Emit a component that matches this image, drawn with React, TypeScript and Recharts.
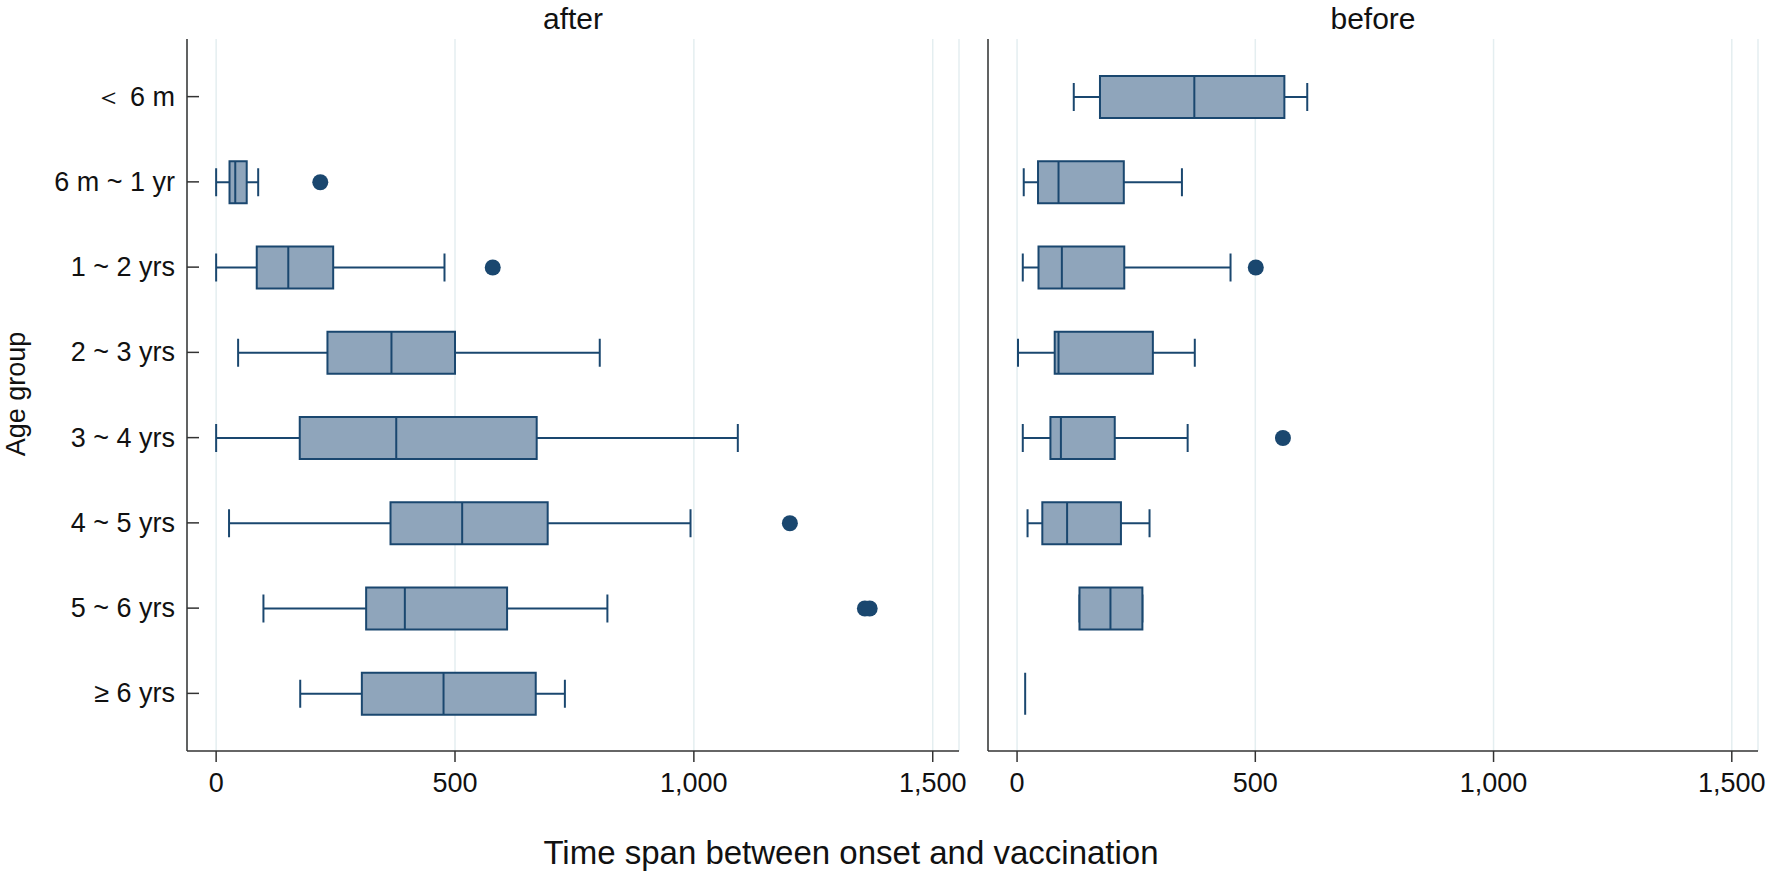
import { Bar, CartesianGrid, ComposedChart, XAxis, YAxis } from "recharts";

const NAVY = "#1a476f";
const BOX_FILL = "#8fa5bb";
const GRID = "#e4eef0";
const AXIS = "#333333";
const FONT = "'Liberation Sans', Arial, sans-serif";

const groups = ["\uFF1C 6 m", "6 m ~ 1 yr", "1 ~ 2 yrs", "2 ~ 3 yrs", "3 ~ 4 yrs", "4 ~ 5 yrs", "5 ~ 6 yrs", "≥ 6 yrs"];

// after vaccination
const afterLow = [null, 0, 0, 46, 0, 27, 99, 176];
const afterQ1 = [null, 28, 85, 233, 175, 365, 314, 305];
const afterMedian = [null, 40, 151, 367, 377, 515, 395, 476];
const afterQ3 = [null, 64, 245, 500, 671, 694, 609, 669];
const afterHigh = [null, 88, 478, 803, 1092, 993, 819, 730];
const afterOutliers = [[], [218], [579], [], [], [1201], [1358, 1368], []];

// before vaccination
const beforeLow = [119, 14, 12, 2, 12, 22, 131, 17];
const beforeQ1 = [174, 44, 45, 79, 70, 53, 131, 17];
const beforeMedian = [372, 87, 94, 87, 92, 105, 196, 17];
const beforeQ3 = [561, 224, 225, 285, 205, 218, 263, 17];
const beforeHigh = [609, 346, 448, 373, 358, 278, 263, 17];
const beforeOutliers = [[], [], [501], [], [558], [], [], []];

const xTicks = [0, 500, 1000, 1500];
const xDomain = [-61, 1555];

type Row = {
  group: string;
  low: number | null;
  q1: number | null;
  median: number | null;
  q3: number | null;
  high: number | null;
  outliers: number[];
  span: [number, number] | null;
};

function buildRows(
  low: (number | null)[],
  q1: (number | null)[],
  median: (number | null)[],
  q3: (number | null)[],
  high: (number | null)[],
  outliers: number[][]
): Row[] {
  return groups.map((group, i) => ({
    group,
    low: low[i],
    q1: q1[i],
    median: median[i],
    q3: q3[i],
    high: high[i],
    outliers: outliers[i],
    span:
      low[i] == null
        ? null
        : [Math.min(low[i] as number, ...outliers[i]), Math.max(high[i] as number, ...outliers[i])],
  }));
}

const afterRows = buildRows(afterLow, afterQ1, afterMedian, afterQ3, afterHigh, afterOutliers);
const beforeRows = buildRows(beforeLow, beforeQ1, beforeMedian, beforeQ3, beforeHigh, beforeOutliers);

function BoxShape(props: any) {
  const { x, y, width, height, payload } = props;
  if (!payload || payload.span == null) return null;
  const [lo, hi] = payload.span;
  const top = y;
  const bottom = y + height;
  const cy = y + height / 2;
  if (hi === lo) {
    return <line x1={x} x2={x} y1={top} y2={bottom} stroke={NAVY} strokeWidth={2} />;
  }
  const k = width / (hi - lo);
  const px = (v: number) => x + (v - lo) * k;
  const cap = height / 3;
  return (
    <g>
      <line x1={px(payload.low)} x2={px(payload.q1)} y1={cy} y2={cy} stroke={NAVY} strokeWidth={2} />
      <line x1={px(payload.q3)} x2={px(payload.high)} y1={cy} y2={cy} stroke={NAVY} strokeWidth={2} />
      <line x1={px(payload.low)} x2={px(payload.low)} y1={cy - cap} y2={cy + cap} stroke={NAVY} strokeWidth={2} />
      <line x1={px(payload.high)} x2={px(payload.high)} y1={cy - cap} y2={cy + cap} stroke={NAVY} strokeWidth={2} />
      <rect
        x={px(payload.q1)}
        y={top}
        width={px(payload.q3) - px(payload.q1)}
        height={height}
        fill={BOX_FILL}
        stroke={NAVY}
        strokeWidth={2}
      />
      <line x1={px(payload.median)} x2={px(payload.median)} y1={top} y2={bottom} stroke={NAVY} strokeWidth={2} />
      {payload.outliers.map((v: number) => (
        <circle key={v} cx={px(v)} cy={cy} r={8} fill={NAVY} />
      ))}
    </g>
  );
}

function CategoryTick(props: any) {
  const { x, y, payload } = props;
  return (
    <g>
      <text x={x} y={y} textAnchor="end" dominantBaseline="central" fontSize={27} fill="#111" fontFamily={FONT}>
        {payload.value}
      </text>
      <line x1={x + 12} x2={x + 24} y1={y} y2={y} stroke={AXIS} strokeWidth={1.5} />
    </g>
  );
}

function Panel({ rows, showLabels, margin }: { rows: Row[]; showLabels: boolean; margin: any }) {
  return (
    <ComposedChart width={1767} height={872} data={rows} layout="vertical" margin={margin}>
      <CartesianGrid horizontal={false} stroke={GRID} strokeWidth={1.5} />
      <XAxis
        type="number"
        domain={xDomain}
        ticks={xTicks}
        allowDataOverflow
        tickFormatter={(v: number) => v.toLocaleString("en-US")}
        tick={{ fontSize: 27, fill: "#111", fontFamily: FONT }}
        tickSize={11}
        tickMargin={11}
        stroke={AXIS}
        strokeWidth={1.5}
        height={60}
      />
      <XAxis
        xAxisId="frame"
        orientation="top"
        type="number"
        domain={xDomain}
        allowDataOverflow
        tick={false}
        tickLine={false}
        height={0}
        stroke={GRID}
        strokeWidth={1.5}
      />
      <YAxis
        type="category"
        dataKey="group"
        width={showLabels ? 187 : 28}
        padding={{ top: 15, bottom: 15 }}
        tick={showLabels ? <CategoryTick /> : false}
        tickLine={false}
        tickSize={0}
        tickMargin={12}
        stroke={AXIS}
        strokeWidth={1.5}
        interval={0}
      />
      <YAxis
        yAxisId="frame"
        orientation="right"
        type="category"
        dataKey="group"
        width={0}
        tick={false}
        tickLine={false}
        stroke={GRID}
        strokeWidth={1.5}
      />
      <Bar dataKey="span" barSize={42} shape={<BoxShape />} isAnimationActive={false} />
    </ComposedChart>
  );
}

export default function App() {
  return (
    <div style={{ position: "absolute", left: 0, top: 0, width: 1767, height: 872, background: "#fff", fontFamily: FONT }}>
      <div style={{ position: "absolute", left: 0, top: 0 }}>
        <Panel rows={afterRows} showLabels margin={{ top: 39, right: 808, bottom: 61, left: 0 }} />
      </div>
      <div style={{ position: "absolute", left: 0, top: 0 }}>
        <Panel rows={beforeRows} showLabels={false} margin={{ top: 39, right: 9, bottom: 61, left: 960 }} />
      </div>
      <svg width={1767} height={872} style={{ position: "absolute", left: 0, top: 0, pointerEvents: "none" }}>
        <text x={573} y={18} textAnchor="middle" dominantBaseline="central" fontSize={30} fill="#111" fontFamily={FONT}>
          after
        </text>
        <text x={1373} y={18} textAnchor="middle" dominantBaseline="central" fontSize={30} fill="#111" fontFamily={FONT}>
          before
        </text>
        <text x={851} y={852} textAnchor="middle" dominantBaseline="central" fontSize={33} fill="#111" fontFamily={FONT}>
          Time span between onset and vaccination
        </text>
        <text
          x={16}
          y={394}
          textAnchor="middle"
          dominantBaseline="central"
          fontSize={27}
          fill="#111"
          fontFamily={FONT}
          transform="rotate(-90 16 394)"
        >
          Age group
        </text>
      </svg>
    </div>
  );
}
